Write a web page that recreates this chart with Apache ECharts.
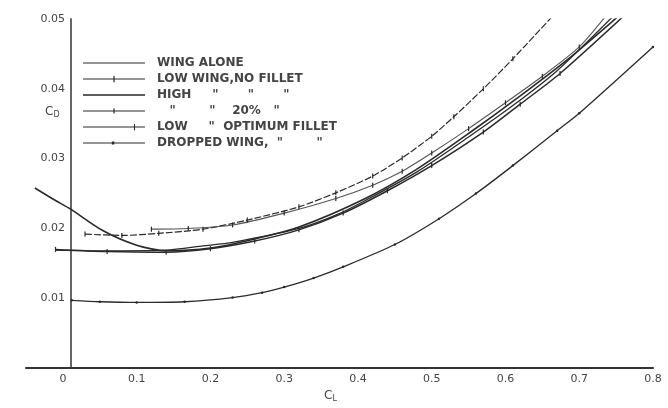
<!DOCTYPE html>
<html><head><meta charset="utf-8">
<script src="https://cdn.jsdelivr.net/npm/echarts@6/dist/echarts.min.js"></script>
<style>html,body{margin:0;padding:0;background:#fff}#c{width:668px;height:408px}</style>
</head><body><div id="c"></div>
<script>
// Tick labels
const xTicks = [0, 0.1, 0.2, 0.3, 0.4, 0.5, 0.6, 0.7, 0.8];
const yTicks = [0.01, 0.02, 0.03, 0.04, 0.05];

// Legend names (as written in the key)
const names = [
  'WING ALONE',
  'LOW WING,NO FILLET',
  'HIGH     "       "       "',
  '   "        "    20%   "',
  'LOW     "  OPTIMUM FILLET',
  'DROPPED WING,  "        "'
];

// [C_L, C_D] values
const wingAlone = [[-0.01,0.0169],[0.05,0.0168],[0.14,0.0169],[0.19,0.0175],[0.23,0.0180],[0.32,0.0200],[0.37,0.0219],[0.41,0.0240],[0.48,0.0281],[0.55,0.0331],[0.61,0.0376],[0.67,0.0426],[0.745,0.0503]];
const lowNoFillet = [[0.03,0.0192],[0.08,0.0190],[0.13,0.0193],[0.19,0.0199],[0.25,0.0212],[0.32,0.0231],[0.37,0.0251],[0.42,0.0275],[0.46,0.0301],[0.50,0.0332],[0.53,0.0360],[0.57,0.0400],[0.61,0.0443],[0.663,0.0503]];
const highNoFillet = [[-0.038,0.0258],[-0.01,0.0240],[0.01,0.0228],[0.054,0.0197],[0.10,0.0176],[0.14,0.0168],[0.20,0.0172],[0.26,0.0185],[0.32,0.0202],[0.41,0.0243],[0.48,0.0285],[0.55,0.0336],[0.62,0.0390],[0.69,0.0447],[0.752,0.0503]];
const high20 = [[0.12,0.0199],[0.17,0.0200],[0.23,0.0205],[0.30,0.0222],[0.37,0.0243],[0.42,0.0262],[0.46,0.0282],[0.50,0.0308],[0.55,0.0343],[0.60,0.0380],[0.65,0.0418],[0.70,0.0460],[0.735,0.0503]];
const lowOptimum = [[-0.01,0.0170],[0.06,0.0167],[0.14,0.0166],[0.20,0.0171],[0.26,0.0182],[0.32,0.0198],[0.38,0.0222],[0.44,0.0254],[0.50,0.0290],[0.57,0.0338],[0.62,0.0378],[0.674,0.0422],[0.759,0.0503]];
const droppedWing = [[0.012,0.0097],[0.05,0.0095],[0.10,0.0094],[0.165,0.0095],[0.23,0.0101],[0.27,0.0108],[0.30,0.0116],[0.34,0.0129],[0.38,0.0145],[0.45,0.0177],[0.51,0.0214],[0.56,0.0250],[0.61,0.0290],[0.67,0.0340],[0.70,0.0365],[0.80,0.0460]];

const ink = '#2a2a2a';
// legend key glyphs: a thin line with an optional small mark
const B = 'M0,0h0.1v0.1h-0.1Z M100,16h-0.1v-0.1h0.1Z ';
const L = 'M0,7.2h100v1.6h-100Z ';
const icons = [
  'path://' + B + L,
  'path://' + B + L + 'M49,3h2v10h-2Z',
  'path://' + B + 'M0,6.8h100v2.4h-100Z',
  'path://' + B + L + 'M49,4h2v8h-2Z',
  'path://' + B + 'M0,7.2h118v1.6h-118Z M97,3h2v10h-2Z',
  'path://' + B + L + 'M46.5,5.5h4v5h-4Z'
];

function mk(name, data, opts) {
  return Object.assign({
    name: name, type: 'line', data: data, smooth: 0.25,
    symbol: 'rect', symbolSize: [1.2, 5], showSymbol: true,
    itemStyle: {color: ink},
    lineStyle: {color: ink, width: 1.3},
    emphasis: {disabled: true}
  }, opts || {});
}

const chart = echarts.init(document.getElementById('c'), null, {renderer: 'canvas'});
chart.setOption({
  animation: false,
  backgroundColor: '#fff',
  grid: {left: 26, right: 15, top: 19, bottom: 29, containLabel: false},
  xAxis: {
    type: 'value', min: -0.05, max: 0.8,
    axisLine: {show: true, onZero: false, lineStyle: {color: '#333', width: 2}},
    axisTick: {show: false},
    splitLine: {show: false},
    axisLabel: {customValues: xTicks, color: '#444', fontSize: 11, fontFamily: 'DejaVu Sans', margin: 6,
      formatter: v => (Math.abs(v) < 1e-9 ? '0' : v.toFixed(1))},
    name: '{a|C}{b|L}', nameLocation: 'middle', nameGap: 16,
    nameTextStyle: {padding: [0, 18, 0, 0], rich: {a: {fontSize: 12, color: '#444', fontFamily: 'DejaVu Sans'}, b: {fontSize: 8, color: '#444', padding: [6, 0, 0, 0], fontFamily: 'DejaVu Sans'}}}
  },
  yAxis: {
    type: 'value', min: 0, max: 0.05, offset: -45,
    axisLine: {show: true, onZero: false, lineStyle: {color: '#666', width: 2}},
    axisTick: {show: false},
    splitLine: {show: false},
    axisLabel: {customValues: yTicks, color: '#444', fontSize: 11, fontFamily: 'DejaVu Sans', margin: 6,
      formatter: v => v.toFixed(2)}
  },
  legend: {
    orient: 'vertical', left: 83, top: 57, padding: 0,
    itemWidth: 62, itemHeight: 10, itemGap: 4, symbolKeepAspect: false,
    data: names.map((n, i) => ({name: n, icon: icons[i]})),
    selectedMode: false,
    itemStyle: {color: ink, borderWidth: 0},
    textStyle: {color: '#444', fontSize: 12, fontWeight: 'bold', fontFamily: 'DejaVu Sans', lineHeight: 10, padding: [0, 0, 0, 7]}
  },
  graphic: [{
    type: 'text', left: 45, top: 106, silent: true,
    style: {text: '{a|C}{b|D}', rich: {a: {fontSize: 12, fill: '#444', fontFamily: 'DejaVu Sans'}, b: {fontSize: 8, fill: '#444', padding: [6, 0, 0, 0], fontFamily: 'DejaVu Sans'}}}
  }],
  series: [
    mk(names[0], wingAlone, {symbol: 'none'}),
    mk(names[1], lowNoFillet, {lineStyle: {color: ink, width: 1.2, type: [7, 2]}}),
    mk(names[2], highNoFillet, {symbol: 'none', lineStyle: {color: ink, width: 1.6}}),
    mk(names[3], high20, {lineStyle: {color: '#555', width: 1.1}}),
    mk(names[4], lowOptimum, {lineStyle: {color: ink, width: 1.5}}),
    mk(names[5], droppedWing, {symbol: 'circle', symbolSize: 2.5})
  ]
});
</script></body></html>
